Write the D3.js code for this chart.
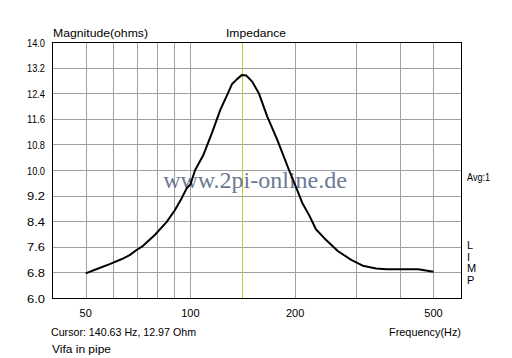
<!DOCTYPE html>
<html>
<head>
<meta charset="utf-8">
<script src="https://cdn.jsdelivr.net/npm/d3@7"></script>
<style>
  html, body { margin: 0; padding: 0; background: #fff; }
  svg { display: block; }
  text { font-family: "Liberation Sans", Arial, sans-serif; font-size: 11px; fill: #000; }
</style>
</head>
<body>
<svg id="chart" width="512" height="358"></svg>
<script>
// ---- data ----
const freqHz = [50, 53.6, 58.6, 63.3, 66.9, 70, 73.1, 79, 85.5, 90.3, 94.4, 97.6, 100, 103.2, 109, 115.3, 121.9, 127.5, 131.8, 136.2, 140.6, 144.9, 150.6, 157.3, 166.4, 177.8, 192.1, 201, 210, 219.5, 229.6, 242.7, 265.3, 290, 313, 342, 366, 452, 500];
const impedanceOhms = [6.77, 6.90, 7.06, 7.21, 7.34, 7.50, 7.63, 7.97, 8.38, 8.75, 9.12, 9.43, 9.55, 10.0, 10.47, 11.15, 11.88, 12.34, 12.69, 12.84, 12.97, 12.95, 12.76, 12.40, 11.67, 10.94, 10.0, 9.48, 8.96, 8.59, 8.15, 7.87, 7.47, 7.19, 7.01, 6.92, 6.90, 6.90, 6.82];
const yTicks = [6.0, 6.8, 7.6, 8.4, 9.2, 10.0, 10.8, 11.6, 12.4, 13.2, 14.0];
const xGridFreqs = [50, 60, 70, 80, 90, 100, 200, 300, 400, 500];
const xTickLabels = [50, 100, 200, 500];
const cursorFreq = 140.63;
const cursorOhm = 12.97;
const sideLetters = ["L", "I", "M", "P"];

// ---- layout ----
const svg = d3.select("#chart");
const L = 52, R = 461, T = 42, B = 298;

const x = d3.scaleLog().domain([40, 600]).range([L, R]);
const y = d3.scaleLinear().domain([6, 14]).range([B, T]);

svg.append("rect").attr("width", 512).attr("height", 358).attr("fill", "#fff");

// grid
const grid = svg.append("g").attr("shape-rendering", "crispEdges").attr("stroke", "#a0a0a0").attr("stroke-width", 1);
grid.selectAll("line.h").data(yTicks.slice(1, -1)).enter().append("line")
  .attr("x1", L).attr("x2", R)
  .attr("y1", d => Math.round(y(d)) + 0.5).attr("y2", d => Math.round(y(d)) + 0.5);
grid.selectAll("line.v").data(xGridFreqs).enter().append("line")
  .attr("y1", T).attr("y2", B)
  .attr("x1", d => Math.round(x(d)) + 0.5).attr("x2", d => Math.round(x(d)) + 0.5);

// cursor line
svg.append("line").attr("shape-rendering", "crispEdges")
  .attr("stroke", "#c8c832").attr("stroke-width", 1)
  .attr("x1", Math.round(x(cursorFreq)) + 0.5).attr("x2", Math.round(x(cursorFreq)) + 0.5)
  .attr("y1", T).attr("y2", B);

// watermark
svg.append("text").attr("x", 255).attr("y", 188).attr("text-anchor", "middle")
  .style("font-family", "'Liberation Serif', 'Times New Roman', serif")
  .style("font-size", "24px").style("fill", "#6a7a94")
  .text("www.2pi-online.de");

// curve
const line = d3.line().x(d => x(d[0])).y(d => y(d[1]));
svg.append("path").datum(freqHz.map((f, i) => [f, impedanceOhms[i]]))
  .attr("d", line).attr("fill", "none").attr("stroke", "#000")
  .attr("stroke-width", 2).attr("stroke-linejoin", "round");

// frame
svg.append("rect").attr("x", L + 0.5).attr("y", T + 0.5)
  .attr("width", R - L).attr("height", B - T)
  .attr("fill", "none").attr("stroke", "#000").attr("stroke-width", 1)
  .attr("shape-rendering", "crispEdges");

// y tick labels
svg.selectAll("text.yl").data(yTicks).enter().append("text")
  .attr("x", 45).attr("y", d => y(d) + 4.5).attr("text-anchor", "end")
  .attr("textLength", 18).attr("lengthAdjust", "spacingAndGlyphs")
  .text(d => d.toFixed(1));

// x tick labels
svg.selectAll("text.xl").data(xTickLabels).enter().append("text")
  .attr("x", d => x(d)).attr("y", 317).attr("text-anchor", "middle")
  .text(d => d);

// titles
function label(txt, xx, yy, len, anchor) {
  const t = svg.append("text").attr("x", xx).attr("y", yy).text(txt);
  if (anchor) t.attr("text-anchor", anchor);
  if (len) t.attr("textLength", len).attr("lengthAdjust", "spacingAndGlyphs");
  return t;
}
label("Magnitude(ohms)", 53, 37, 95);
label("Impedance", 226, 37, 60);
label("Avg:1", 467, 181, 23);
svg.selectAll("text.side").data(sideLetters).enter().append("text")
  .attr("x", 467).attr("y", (d, i) => 249 + i * 11.5).text(d => d);
label("Frequency(Hz)", 389, 336, 72);
label("Cursor: " + cursorFreq.toFixed(2) + " Hz, " + cursorOhm.toFixed(2) + " Ohm", 51, 336, 145);
label("Vifa in pipe", 52, 353, 59);
</script>
</body>
</html>
